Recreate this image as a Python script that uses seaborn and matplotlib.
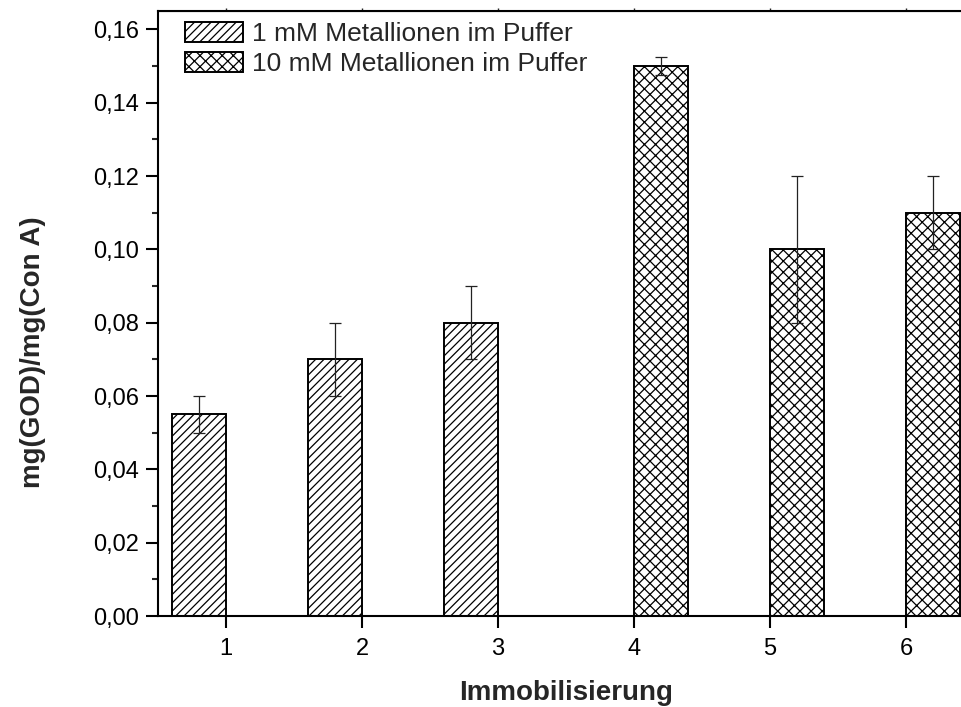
import pandas as pd
import matplotlib
matplotlib.use("Agg")
import matplotlib.pyplot as plt
import matplotlib.patches as mpatches
from matplotlib.ticker import MultipleLocator, FuncFormatter
import seaborn as sns

# values
runs = ["1", "2", "3", "4", "5", "6"]
groups = ["1 mM Metallionen im Puffer"] * 3 + ["10 mM Metallionen im Puffer"] * 3
ratio = [0.055, 0.070, 0.080, 0.150, 0.100, 0.110]
ratio_err = [0.005, 0.010, 0.010, 0.0025, 0.020, 0.010]
hue_levels = ["1 mM Metallionen im Puffer", "10 mM Metallionen im Puffer"]
hatches = ["////", "xxx"]

df = pd.DataFrame({"Immobilisierung": runs, "group": groups,
                   "ratio": ratio, "err": ratio_err})

sns.set_style("ticks")
plt.rcParams["font.family"] = ["Liberation Sans", "DejaVu Sans"]
plt.rcParams["hatch.linewidth"] = 0.9

fig = plt.figure(figsize=(9.62, 7.07), dpi=100)
ax = fig.add_axes([158 / 962, 91 / 707, 816 / 962, 605 / 707])

sns.barplot(data=df, x="Immobilisierung", y="ratio", hue="group",
            hue_order=hue_levels, order=runs, palette=["white", "white"],
            edgecolor="black", linewidth=1.4, width=0.8, dodge=True,
            errorbar=None, legend=False, ax=ax)

# hatch and error bars per group
for cont, hatch, lvl in zip(ax.containers, hatches, hue_levels):
    sub = df[df["group"] == lvl]
    xs = []
    for bar in cont:
        bar.set_hatch(hatch)
        xs.append(bar.get_x() + bar.get_width() / 2)
    ax.errorbar(xs, sub["ratio"], yerr=sub["err"], fmt="none",
                ecolor="#222222", elinewidth=0.9, capsize=4.5, capthick=0.9,
                zorder=5)

ax.set_xlim(-0.5, 5.5)
ax.set_ylim(0, 0.165)
ax.yaxis.set_major_locator(MultipleLocator(0.02))
ax.yaxis.set_minor_locator(MultipleLocator(0.01))
ax.yaxis.set_major_formatter(FuncFormatter(lambda v, p: f"{v:.2f}".replace(".", ",")))

for s in ax.spines.values():
    s.set_linewidth(1.5)
    s.set_color("black")
ax.tick_params(axis="both", which="major", direction="out", length=8.5,
               width=1.5, labelsize=17, colors="black")
ax.tick_params(axis="x", pad=7)
ax.tick_params(axis="y", pad=5)
ax.tick_params(axis="y", which="minor", direction="out", length=4, width=1.5)

top = ax.secondary_xaxis("top")
top.set_xticks(range(len(runs)))
top.tick_params(length=2, width=1, labelsize=0, labeltop=False)

ax.set_xlabel("Immobilisierung", fontsize=20, fontweight="bold")
ax.set_ylabel("mg(GOD)/mg(Con A)", fontsize=20, fontweight="bold")
ax.xaxis.set_label_coords(0.5, -0.106)
ax.yaxis.set_label_coords(-0.137, 0.436)

handles = [mpatches.Patch(facecolor="white", edgecolor="black", linewidth=1.4,
                          hatch=h, label=l) for h, l in zip(hatches, hue_levels)]
ax.legend(handles=handles, loc="upper left", bbox_to_anchor=(0.033, 0.982),
          frameon=False, fontsize=19, borderaxespad=0, borderpad=0,
          handlelength=2.2, handleheight=0.8, handletextpad=0.35,
          labelspacing=0.22)

fig.savefig("out.png", dpi=100)
